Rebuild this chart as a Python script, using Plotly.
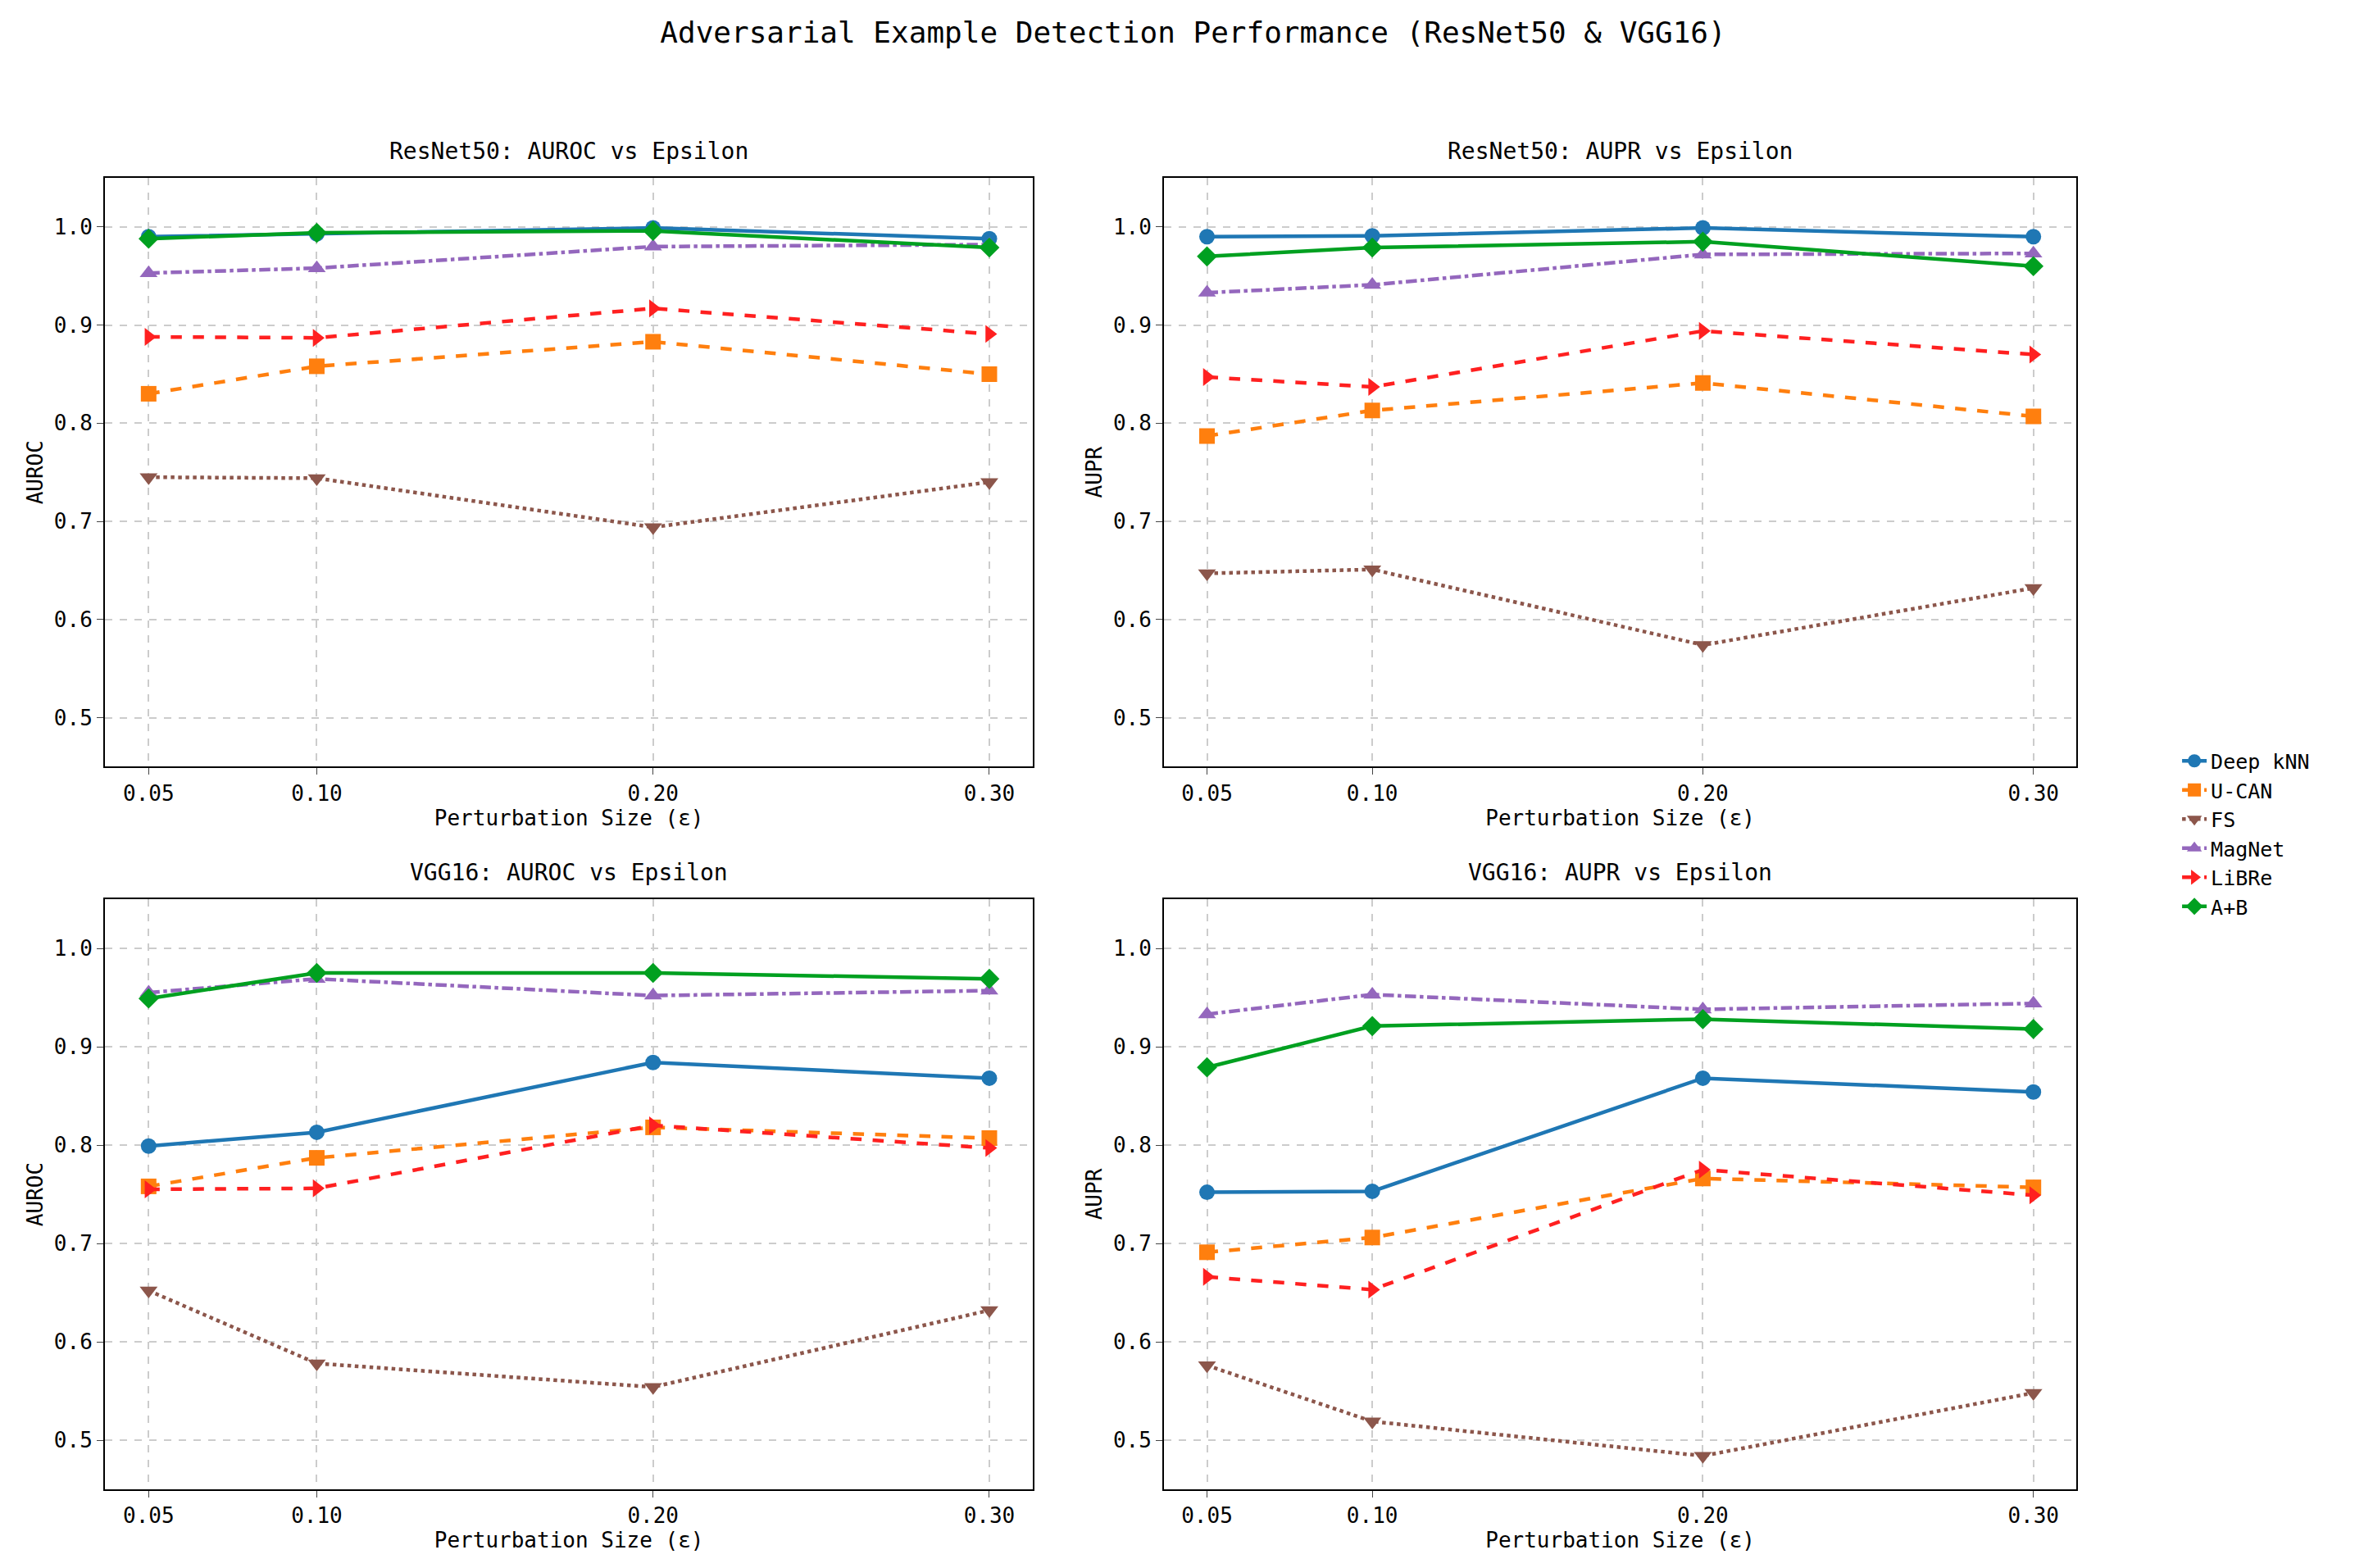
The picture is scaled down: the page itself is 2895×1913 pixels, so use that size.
import plotly.graph_objects as go
from plotly.subplots import make_subplots

eps = [0.05, 0.10, 0.20, 0.30]
eps_labels = ["0.05", "0.10", "0.20", "0.30"]
methods = ["Deep kNN", "U-CAN", "FS", "MagNet", "LiBRe", "A+B"]

r50_auroc = {
    "Deep kNN": [0.990, 0.993, 0.999, 0.988],
    "U-CAN": [0.830, 0.858, 0.883, 0.850],
    "FS": [0.745, 0.744, 0.694, 0.740],
    "MagNet": [0.953, 0.958, 0.980, 0.982],
    "LiBRe": [0.888, 0.887, 0.917, 0.891],
    "A+B": [0.988, 0.994, 0.996, 0.979],
}
r50_aupr = {
    "Deep kNN": [0.990, 0.991, 0.999, 0.990],
    "U-CAN": [0.787, 0.813, 0.841, 0.807],
    "FS": [0.647, 0.651, 0.574, 0.632],
    "MagNet": [0.933, 0.941, 0.972, 0.973],
    "LiBRe": [0.847, 0.837, 0.894, 0.870],
    "A+B": [0.970, 0.979, 0.985, 0.960],
}
vgg_auroc = {
    "Deep kNN": [0.799, 0.813, 0.884, 0.868],
    "U-CAN": [0.758, 0.787, 0.818, 0.807],
    "FS": [0.652, 0.578, 0.554, 0.632],
    "MagNet": [0.955, 0.969, 0.952, 0.957],
    "LiBRe": [0.755, 0.756, 0.820, 0.797],
    "A+B": [0.949, 0.975, 0.975, 0.969],
}
vgg_aupr = {
    "Deep kNN": [0.752, 0.753, 0.868, 0.854],
    "U-CAN": [0.691, 0.706, 0.766, 0.757],
    "FS": [0.576, 0.519, 0.484, 0.548],
    "MagNet": [0.933, 0.953, 0.938, 0.944],
    "LiBRe": [0.666, 0.653, 0.775, 0.749],
    "A+B": [0.879, 0.921, 0.928, 0.918],
}

colors = {"Deep kNN": "#1f77b4", "U-CAN": "#ff7f0e", "FS": "#8c564b",
          "MagNet": "#9467bd", "LiBRe": "#ff2020", "A+B": "#00a020"}
symbols = {"Deep kNN": "circle", "U-CAN": "square", "FS": "triangle-down",
           "MagNet": "triangle-up", "LiBRe": "triangle-right", "A+B": "diamond"}
dashes = {"Deep kNN": "solid", "U-CAN": "dash", "FS": "dot",
          "MagNet": "dashdot", "LiBRe": "dash", "A+B": "solid"}

FONT = "DejaVu Sans Mono"
titles = ["ResNet50: AUROC vs Epsilon", "ResNet50: AUPR vs Epsilon",
          "VGG16: AUROC vs Epsilon", "VGG16: AUPR vs Epsilon"]
fig = make_subplots(rows=2, cols=2, subplot_titles=titles,
                    horizontal_spacing=0.056, vertical_spacing=0.1)
panels = [(r50_auroc, 1, 1, "AUROC"), (r50_aupr, 1, 2, "AUPR"),
          (vgg_auroc, 2, 1, "AUROC"), (vgg_aupr, 2, 2, "AUPR")]
for i, (d, r, c, yl) in enumerate(panels):
    for m in methods:
        fig.add_trace(go.Scatter(
            x=eps, y=d[m], name=m, mode="lines+markers", showlegend=(i == 0),
            line=dict(color=colors[m], width=4.5, dash=dashes[m]),
            marker=dict(symbol=symbols[m], size=19, color=colors[m])), row=r, col=c)
    fig.update_xaxes(row=r, col=c, range=[0.037, 0.313], tickvals=eps, ticktext=eps_labels,
                     title_text="Perturbation Size (ε)", title_standoff=4)
    fig.update_yaxes(row=r, col=c, range=[0.45, 1.05], dtick=0.1, tickformat=".1f",
                     title_text=yl, title_standoff=6)

xd = [(0.0, 0.411), (0.469, 0.873)]
yd = [(0.551, 1.0), (0.0, 0.45)]
fig.update_xaxes(domain=xd[0], col=1)
fig.update_xaxes(domain=xd[1], col=2)
fig.update_yaxes(domain=yd[0], row=1)
fig.update_yaxes(domain=yd[1], row=2)
fig.update_xaxes(showline=True, mirror=True, linecolor="black", linewidth=2,
                 showgrid=True, gridcolor="#cccccc", griddash="dash", gridwidth=1.5,
                 ticks="outside", ticklen=8, tickfont=dict(size=26), title_font=dict(size=26),
                 zeroline=False)
fig.update_yaxes(showline=True, mirror=True, linecolor="black", linewidth=2,
                 showgrid=True, gridcolor="#cccccc", griddash="dash", gridwidth=1.5,
                 ticks="outside", ticklen=8, tickfont=dict(size=26), title_font=dict(size=26),
                 zeroline=False)
pos = [(xd[0], yd[0]), (xd[1], yd[0]), (xd[0], yd[1]), (xd[1], yd[1])]
for a, (dx, dy) in zip(fig.layout.annotations, pos):
    a.font = dict(size=28, family=FONT, color="black")
    a.x = (dx[0] + dx[1]) / 2
    a.y = dy[1]
    a.yanchor = "bottom"
    a.yshift = 14

fig.update_layout(
    width=2895, height=1913, paper_bgcolor="white", plot_bgcolor="white",
    font=dict(family=FONT, color="black"),
    title=dict(text="Adversarial Example Detection Performance (ResNet50 & VGG16)",
               x=0.5, y=0.99, xanchor="center", font=dict(size=36, family=FONT)),
    margin=dict(l=120, r=20, t=209, b=104),
    legend=dict(x=0.918, y=0.5, yanchor="middle", xanchor="left",
                font=dict(size=25, family=FONT), tracegroupgap=8),
)
fig.write_html("out.html")
